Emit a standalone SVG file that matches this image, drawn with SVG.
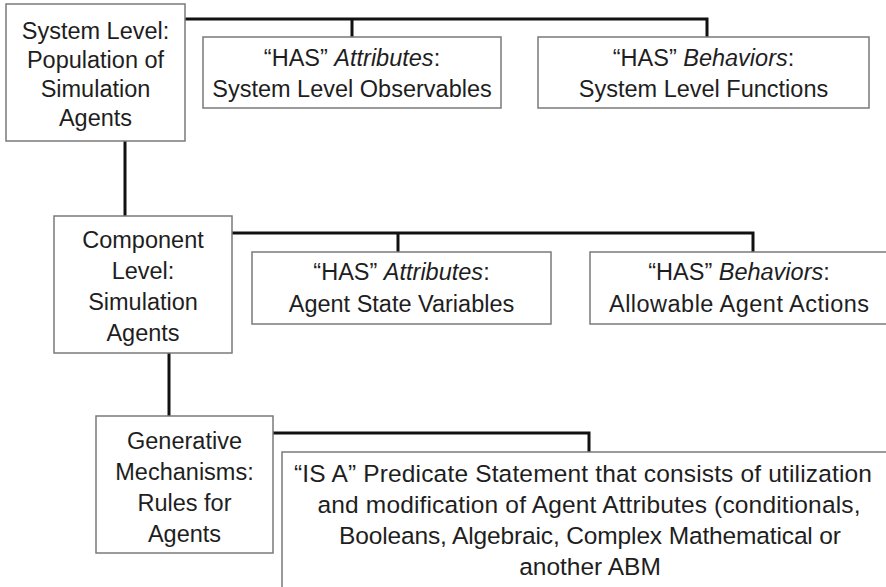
<svg xmlns="http://www.w3.org/2000/svg" width="886" height="587" viewBox="0 0 886 587">
  <style>
    .box { fill: #ffffff; stroke: #7a7a7a; stroke-width: 1.5; }
    .lbl { font-family: "Liberation Sans", Arial, sans-serif; font-size: 23.5px; fill: #1e1e1e; text-anchor: middle; }
    .wide { font-size: 24.5px; }
    .conn { fill: none; stroke: #111111; stroke-width: 3; stroke-linejoin: miter; }
  </style>
  <rect width="886" height="587" fill="#ffffff"/>

  <!-- connectors -->
  <g id="connectors">
    <polyline class="conn" points="185,19 707,19 707,37"/>
    <line class="conn" x1="352" y1="19" x2="352" y2="37"/>
    <line class="conn" x1="125" y1="141" x2="125" y2="216"/>
    <polyline class="conn" points="232,233 753,233 753,252"/>
    <line class="conn" x1="398" y1="233" x2="398" y2="252"/>
    <line class="conn" x1="169" y1="353" x2="169" y2="416"/>
    <polyline class="conn" points="273,433 589,433 589,452"/>
  </g>

  <!-- system level -->
  <g id="system-level">
    <rect class="box" x="6" y="4" width="179" height="137"/>
    <text class="lbl" x="95.5" y="39">System Level:</text>
    <text class="lbl" x="95.5" y="68">Population of</text>
    <text class="lbl" x="95.5" y="97">Simulation</text>
    <text class="lbl" x="95.5" y="126">Agents</text>
  </g>

  <g id="system-attributes">
    <rect class="box" x="203" y="37" width="298" height="71"/>
    <text class="lbl" x="352" y="66">“HAS” <tspan font-style="italic">Attributes</tspan>:</text>
    <text class="lbl" x="352" y="97">System Level Observables</text>
  </g>

  <g id="system-behaviors">
    <rect class="box" x="538" y="37" width="331" height="71"/>
    <text class="lbl" x="703.5" y="66">“HAS” <tspan font-style="italic">Behaviors</tspan>:</text>
    <text class="lbl" x="703.5" y="97">System Level Functions</text>
  </g>

  <!-- component level -->
  <g id="component-level">
    <rect class="box" x="54" y="216" width="178" height="137"/>
    <text class="lbl" x="143" y="248">Component</text>
    <text class="lbl" x="143" y="279">Level:</text>
    <text class="lbl" x="143" y="310">Simulation</text>
    <text class="lbl" x="143" y="341">Agents</text>
  </g>

  <g id="agent-attributes">
    <rect class="box" x="252" y="252" width="299" height="72"/>
    <text class="lbl" x="401.5" y="280">“HAS” <tspan font-style="italic">Attributes</tspan>:</text>
    <text class="lbl" x="401.5" y="312">Agent State Variables</text>
  </g>

  <g id="agent-behaviors">
    <rect class="box" x="590" y="252" width="300" height="72"/>
    <text class="lbl" x="739" y="280">“HAS” <tspan font-style="italic">Behaviors</tspan>:</text>
    <text class="lbl" x="739" y="312" textLength="260" lengthAdjust="spacing">Allowable Agent Actions</text>
  </g>

  <!-- generative mechanisms -->
  <g id="generative-mechanisms">
    <rect class="box" x="96" y="416" width="177" height="137"/>
    <text class="lbl" x="184.5" y="449">Generative</text>
    <text class="lbl" x="184.5" y="480">Mechanisms:</text>
    <text class="lbl" x="184.5" y="511">Rules for</text>
    <text class="lbl" x="184.5" y="542">Agents</text>
  </g>

  <g id="predicate-statement">
    <rect class="box" x="282" y="452" width="620" height="150"/>
    <text class="lbl wide" x="583" y="482" textLength="578" lengthAdjust="spacing">“IS A” Predicate Statement that consists of utilization</text>
    <text class="lbl wide" x="589" y="513" textLength="543" lengthAdjust="spacing">and modification of Agent Attributes (conditionals,</text>
    <text class="lbl wide" x="590" y="544" textLength="502" lengthAdjust="spacing">Booleans, Algebraic, Complex Mathematical or</text>
    <text class="lbl wide" x="590" y="575">another ABM</text>
  </g>
</svg>
